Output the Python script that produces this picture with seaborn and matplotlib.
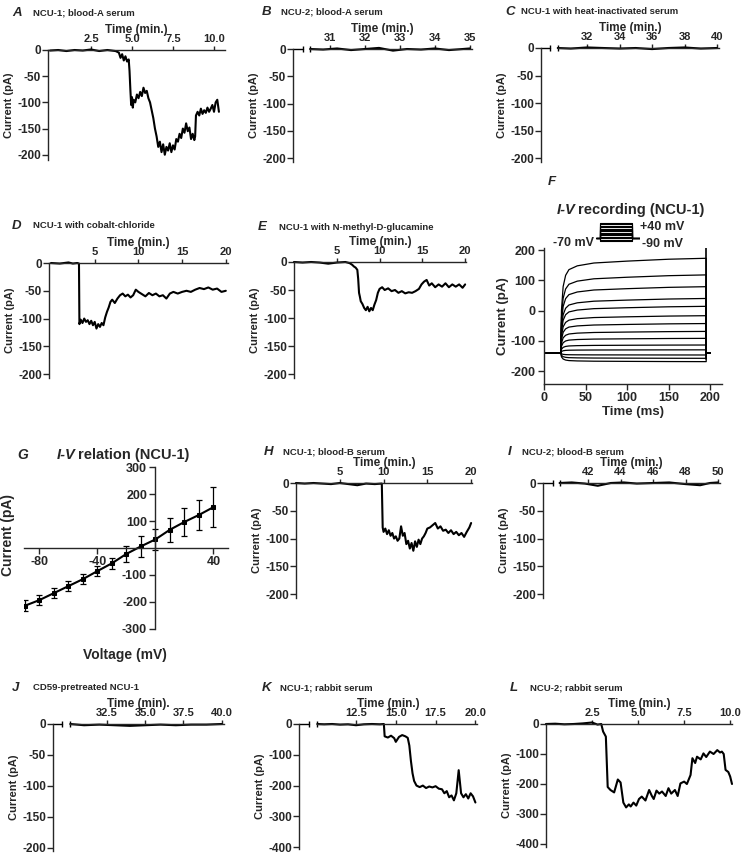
import matplotlib
matplotlib.use("Agg")
import matplotlib.pyplot as plt
import seaborn as sns

# ---- data (time in min, current in pA) ----
a_t = [0.0, 0.5, 1.0, 1.5, 2.0, 2.5, 3.0, 3.5, 4.0, 4.2,
       4.3, 4.4, 4.5, 4.6, 4.7, 4.8, 4.85, 4.9, 4.95, 5.0,
       5.05, 5.1, 5.2, 5.3, 5.4, 5.5, 5.6, 5.7, 5.8, 5.9,
       6.0, 6.1, 6.2, 6.3, 6.4, 6.5, 6.6, 6.7, 6.8, 6.9,
       7.0, 7.1, 7.2, 7.3, 7.4, 7.5, 7.6, 7.7, 7.8, 7.9,
       8.0, 8.1, 8.2, 8.3, 8.4, 8.5, 8.6, 8.7, 8.8, 8.85,
       8.9, 9.0, 9.1, 9.2, 9.3, 9.4, 9.5, 9.6, 9.7, 9.8,
       9.9, 10.0, 10.1, 10.2, 10.3]
a_i = [-1, 0, -2, 0, -1, 1, -2, 0, -2, -5,
       -15, -8, -20, -12, -22, -18, -40, -75, -105, -90,
       -110, -95, -100, -85, -92, -80, -88, -72, -82, -78,
       -92, -100, -115, -130, -150, -165, -185, -175, -195, -180,
       -200, -185, -192, -178, -195, -182, -190, -170, -175, -160,
       -168, -150, -158, -140, -155, -148, -170, -160, -172, -165,
       -125, -118, -125, -112, -122, -115, -120, -110, -118, -112,
       -105, -118, -100, -95, -118]

b_t = [30.43, 30.8, 31.2, 31.6, 32.0, 32.4, 32.8, 33.2, 33.6, 34.0, 34.4, 34.8, 35.0]
b_i = [0, -1, 1, -2, 0, 2, -3, 0, -1, 1, -2, 0, 1]

c_t = [30.2, 31, 32, 33, 34, 35, 36, 37, 38, 39, 40]
c_i = [0, -1, 1, 0, -1, 0, -2, 0, 1, -1, 0]

d_t = [0, 1, 2, 2.5, 3.0, 3.2, 3.25, 3.4, 3.6, 3.8,
       4.0, 4.2, 4.4, 4.6, 4.8, 5.0, 5.2, 5.4, 5.6, 5.8,
       6.0, 6.2, 6.4, 6.6, 6.8, 7.0, 7.3, 7.6, 7.9, 8.2,
       8.5, 8.8, 9.1, 9.4, 9.7, 10.0, 10.4, 10.8, 11.2, 11.6,
       12.0, 12.4, 12.8, 13.2, 13.6, 14.0, 14.5, 15.0, 15.5, 16.0,
       16.5, 17.0, 17.5, 18.0, 18.5, 19.0, 19.5, 20.0]
d_i = [0, -1, 1, -1, 0, -1, -110, -102, -108, -100,
       -106, -103, -110, -104, -112, -106, -118, -110, -115, -108,
       -112, -98, -88, -80, -70, -66, -72, -64, -58, -55,
       -60, -57, -62, -58, -48, -52, -56, -60, -54, -58,
       -55, -60, -58, -64, -55, -52, -55, -52, -50, -52,
       -48, -45, -47, -44, -48, -46, -52, -50]

e_t = [0, 1, 2, 3, 4, 5, 6, 6.5, 6.8, 7.0,
       7.2, 7.4, 7.5, 7.6, 7.7, 7.8, 8.0, 8.2, 8.4, 8.6,
       8.8, 9.0, 9.2, 9.4, 9.6, 9.8, 10.0, 10.3, 10.6, 11.0,
       11.4, 11.8, 12.2, 12.6, 13.0, 13.4, 13.8, 14.2, 14.6, 14.9,
       15.2, 15.5, 15.8, 16.1, 16.5, 16.9, 17.3, 17.7, 18.1, 18.5,
       18.9, 19.3, 19.7, 20.0]
e_i = [0, -1, 0, -1, -3, -1, 0, -2, -5, -8,
       -10, -14, -30, -55, -62, -70, -75, -82, -86, -80,
       -88, -82, -86, -76, -68, -55, -48, -45, -50, -47,
       -52, -50, -55, -52, -56, -54, -55, -52, -48, -40,
       -35, -32, -42, -38, -45, -40, -44, -38, -45, -40,
       -44, -40, -46, -40]

# F: I-V recording, steps -90..+40 mV (time in ms)
f_base = -140
f_final = [173, 118, 79, 40, 14, -17, -43, -69, -92, -114, -130, -147, -158, -169]
f_shape_t = [20, 21, 23, 26, 30, 40, 60, 100, 150, 195]
f_shape = [0, 0.45, 0.7, 0.82, 0.88, 0.92, 0.95, 0.97, 0.99, 1.0]
f_tail_t = [195, 195]
f_tail_i = [-160, 207]

# G: I-V relation
g_v = [-90, -80, -70, -60, -50, -40, -30, -20, -10, 0, 10, 20, 30, 40]
g_i = [-215, -194, -168, -142, -116, -86, -57, -22, 6, 32, 68, 97, 123, 152]
g_e = [21, 19, 19, 18, 18, 19, 21, 29, 40, 40, 45, 52, 57, 74]

h_t = [0, 1, 2, 3, 4, 5, 6, 7, 8, 9,
       9.8, 9.9, 10.0, 10.2, 10.4, 10.6, 10.8, 11.0, 11.2, 11.4,
       11.6, 11.8, 12.0, 12.2, 12.4, 12.6, 12.8, 13.0, 13.2, 13.4,
       13.6, 13.8, 14.0, 14.2, 14.4, 14.6, 14.8, 15.0, 15.3, 15.6,
       15.9, 16.2, 16.5, 16.8, 17.1, 17.4, 17.7, 18.0, 18.3, 18.6,
       18.9, 19.2, 19.5, 19.8, 20.0]
h_i = [0, -1, 0, -1, -2, 0, -2, -4, -1, -2,
       -1, -80, -88, -82, -92, -85, -95, -90, -100, -96,
       -104, -100, -78, -95, -90, -110, -104, -118, -108, -122,
       -105, -115, -102, -110, -100, -96, -90, -82, -80, -76,
       -72, -82, -78, -86, -84, -90, -85, -92, -88, -94,
       -90, -97, -88, -80, -72]

i_t = [40.25, 41, 41.8, 42.6, 43.4, 44.2, 45, 46, 47, 48, 48.9, 49.5, 50]
i_i = [0, 1, -1, -5, 0, 1, -1, 0, 1, -2, -4, 0, 1]

j_t = [30.1, 31, 32, 33, 34, 35, 36, 37, 38, 39, 40]
j_i = [0, -2, -1, -2, -3, -2, -1, -2, -1, -1, 0]

k_t = [10.07, 10.5, 11.0, 11.5, 12.0, 12.5, 13.0, 13.5, 14.0, 14.25,
       14.3, 14.5, 14.7, 14.9, 15.0, 15.2, 15.4, 15.6, 15.75, 15.85,
       15.95, 16.05, 16.15, 16.3, 16.5, 16.7, 16.9, 17.1, 17.3, 17.5,
       17.7, 17.9, 18.05, 18.2, 18.35, 18.5, 18.65, 18.8, 18.95, 19.1,
       19.25, 19.4, 19.55, 19.7, 19.85, 20.0]
k_i = [0, -1, 0, -2, -1, -4, -1, 0, -1, 0,
       -40, -44, -38, -46, -58, -42, -36, -40, -45, -70,
       -120, -160, -185, -200, -205, -200, -208, -203, -206, -202,
       -210, -212, -225, -218, -238, -232, -248, -225, -150, -225,
       -238, -228, -242, -225, -235, -255]

l_t = [0.0, 0.5, 1.0, 1.5, 2.0, 2.5, 2.8, 3.0, 3.1, 3.25,
       3.35, 3.5, 3.7, 3.9, 4.05, 4.2, 4.35, 4.5, 4.6, 4.75,
       4.9, 5.05, 5.2, 5.4, 5.6, 5.75, 5.85, 6.0, 6.15, 6.3,
       6.5, 6.65, 6.8, 7.0, 7.15, 7.3, 7.5, 7.65, 7.85, 7.95,
       8.1, 8.2, 8.4, 8.55, 8.7, 8.9, 9.1, 9.3, 9.45, 9.55,
       9.65, 9.75, 9.9, 10.0, 10.1]
l_i = [0, 1, -1, 0, 2, 5, -2, 0, -25, -42,
       -210, -220, -228, -185, -195, -262, -278, -268, -275, -262,
       -272, -250, -242, -255, -220, -240, -250, -222, -232, -225,
       -240, -214, -232, -220, -240, -198, -192, -200, -170, -114,
       -130, -109, -118, -98, -110, -92, -100, -87, -95, -92,
       -100, -153, -160, -175, -200]

y200 = [0, -50, -100, -150, -200]
y400 = [0, -100, -200, -300, -400]

# ---- style ----
sns.set_style("ticks")
plt.rcParams["font.family"] = ["Liberation Sans", "DejaVu Sans"]
plt.rcParams["font.weight"] = "bold"
plt.rcParams["axes.unicode_minus"] = False
plt.rcParams["axes.linewidth"] = 1.0
plt.rcParams["xtick.major.width"] = 1.0
plt.rcParams["ytick.major.width"] = 1.0

W, H = 745, 859
fig = plt.figure(figsize=(W / 100, H / 100), dpi=100)


def px_axes(left, top, right, bottom):
    return fig.add_axes([left / W, 1 - bottom / H, (right - left) / W, (bottom - top) / H])


def label(xl, xt, y, letter, title):
    fig.text(xl / W, 1 - y / H, letter, fontsize=9.5, fontweight="bold", style="italic", va="center")
    fig.text(xt / W, 1 - y / H, title, fontsize=6.8, fontweight="bold", va="center")


def trace_panel(rect, xlim, ylo, xticks, fmt, yticks, t, cur, brk=None, xlab="Time (min.)"):
    ax = px_axes(*rect)
    sns.lineplot(x=t, y=cur, ax=ax, color="black", linewidth=1.5, sort=False, estimator=None)
    for ln in ax.lines:
        ln.set_clip_on(False)
    ax.set_xlim(*xlim)
    ax.set_ylim(ylo, 0)
    ax.spines["right"].set_visible(False)
    ax.spines["bottom"].set_visible(False)
    ax.xaxis.tick_top()
    ax.xaxis.set_label_position("top")
    ax.set_xticks(xticks)
    ax.set_xticklabels([fmt.format(v) for v in xticks])
    ax.set_yticks(yticks)
    ax.tick_params(axis="x", direction="out", length=3, pad=1, labelsize=8)
    ax.tick_params(axis="y", direction="out", length=4, pad=1, labelsize=8.5)
    ax.set_xlabel(xlab, fontsize=8.5, fontweight="bold", labelpad=1)
    ax.set_ylabel("Current (pA)", fontsize=8, fontweight="bold", labelpad=2)
    if brk:
        seg_end, main_start = brk
        ax.spines["top"].set_bounds(main_start, xlim[1])
        ax.plot([xlim[0], seg_end], [0, 0], color="black", lw=1, clip_on=False)
        ax.plot([seg_end, main_start], [0, 0], ls="none", marker="|", ms=5, mew=1,
                color="black", clip_on=False)
    return ax


# ---- panels A-E, H-L ----
label(12, 33, 13, "A", "NCU-1; blood-A serum")
trace_panel((48, 50, 225, 160), (-0.12, 10.67), -210, [2.5, 5, 7.5, 10], "{:.1f}", y200, a_t, a_i)

label(262, 281, 12, "B", "NCU-2; blood-A serum")
trace_panel((293, 49, 472, 162), (29.94, 35.06), -207, [31, 32, 33, 34, 35], "{:.0f}", y200,
            b_t, b_i, brk=(30.23, 30.43))

label(505, 521, 12, "C", "NCU-1 with heat-inactivated serum")
trace_panel((541, 48, 719, 162), (29.17, 40.12), -207, [32, 34, 36, 38, 40], "{:.0f}", y200,
            c_t, c_i, brk=(29.72, 30.2))

label(12, 33, 226, "D", "NCU-1 with cobalt-chloride")
trace_panel((49, 263, 228, 378), (-0.23, 20.25), -207, [5, 10, 15, 20], "{:.0f}", y200, d_t, d_i)

label(258, 279, 227, "E", "NCU-1 with N-methyl-D-glucamine")
trace_panel((294, 262, 466, 378), (0, 20.1), -207, [5, 10, 15, 20], "{:.0f}", y200, e_t, e_i)

label(264, 283, 452, "H", "NCU-1; blood-B serum")
trace_panel((296, 483, 472, 598), (0, 20.1), -207, [5, 10, 15, 20], "{:.0f}", y200, h_t, h_i)

label(508, 522, 452, "I", "NCU-2; blood-B serum")
trace_panel((543, 483, 720, 598), (39.23, 50.12), -207, [42, 44, 46, 48, 50], "{:.0f}", y200,
            i_t, i_i, brk=(39.85, 40.25))

label(12, 33, 688, "J", "CD59-pretreated NCU-1")
trace_panel((53, 724, 224, 851), (28.97, 40.15), -205, [32.5, 35, 37.5, 40], "{:.1f}", y200,
            j_t, j_i, brk=(29.56, 30.1), xlab="Time (min).")

label(262, 280, 688, "K", "NCU-1; rabbit serum")
trace_panel((299, 724, 477, 849), (8.92, 20.1), -406, [12.5, 15, 17.5, 20], "{:.1f}", y400,
            k_t, k_i, brk=(9.55, 10.07))

label(510, 530, 688, "L", "NCU-2; rabbit serum")
trace_panel((546, 724, 732, 847), (0, 10.1), -410, [2.5, 5, 7.5, 10], "{:.1f}", y400, l_t, l_i)

# ---- panel F: I-V recording ----
axf = px_axes(544, 248, 722, 384)
for fin in f_final:
    t = [0] + f_shape_t + [195, 200]
    v = [f_base] + [f_base + (fin - f_base) * s for s in f_shape] + [f_base, f_base]
    sns.lineplot(x=t, y=v, ax=axf, color="black", linewidth=0.9, sort=False, estimator=None)
sns.lineplot(x=f_tail_t, y=f_tail_i, ax=axf, color="black", linewidth=1.2, sort=False, estimator=None)
axf.set_xlim(0, 214)
axf.set_ylim(-243, 207)
axf.set_xticks([0, 50, 100, 150, 200])
axf.set_yticks([-200, -100, 0, 100, 200])
sns.despine(ax=axf)
axf.tick_params(direction="out", length=4, pad=2, labelsize=9)
axf.set_xlabel("Time (ms)", fontsize=9.5, fontweight="bold", labelpad=1)
axf.set_ylabel("Current (pA)", fontsize=9.5, fontweight="bold", labelpad=1)
fig.text(548 / W, 1 - 182 / H, "F", fontsize=9.5, fontweight="bold", style="italic", va="center")
fig.text(557 / W, 1 - 210 / H, "I-V", fontsize=10.5, fontweight="bold", style="italic", va="center")
fig.text(578 / W, 1 - 210 / H, "recording (NCU-1)", fontsize=10.5, fontweight="bold", va="center")

# voltage protocol inset
axp = px_axes(596, 222, 640, 246)
for v in g_v:
    axp.plot([0, 9, 9, 82, 82, 100], [-70, -70, v, v, -70, -70], color="black", lw=0.8)
axp.set_xlim(0, 100)
axp.set_ylim(-126, 47)
axp.axis("off")
fig.text(594 / W, 1 - 243 / H, "-70 mV", fontsize=9, fontweight="bold", ha="right", va="center")
fig.text(640 / W, 1 - 227 / H, "+40 mV", fontsize=9, fontweight="bold", ha="left", va="center")
fig.text(642 / W, 1 - 244 / H, "-90 mV", fontsize=9, fontweight="bold", ha="left", va="center")

# ---- panel G: I-V relation ----
axg = px_axes(24, 466, 228, 630)
axg.errorbar(g_v, g_i, yerr=g_e, fmt="none", ecolor="black", elinewidth=0.9, capsize=2.5, capthick=0.9)
sns.lineplot(x=g_v, y=g_i, ax=axg, color="black", linewidth=1.5, marker="s", markersize=3.5,
             markeredgecolor="black", estimator=None)
axg.set_xlim(-90.5, 50)
axg.set_ylim(-305, 305)
axg.spines["left"].set_position(("data", 0))
axg.spines["bottom"].set_position(("data", 0))
axg.spines["left"].set_bounds(-300, 300)
axg.spines["right"].set_visible(False)
axg.spines["top"].set_visible(False)
axg.set_xticks([-80, -40, 40])
axg.set_yticks([-300, -200, -100, 100, 200, 300])
axg.tick_params(direction="out", length=4, pad=2, labelsize=9)
axg.set_xlabel("Voltage (mV)", fontsize=10, fontweight="bold")
axg.set_ylabel("Current (pA)", fontsize=10, fontweight="bold")
axg.xaxis.set_label_coords(0.495, -0.11)
axg.yaxis.set_label_coords(-0.045, 0.58)
fig.text(17 / W, 1 - 455 / H, "G", fontsize=10, fontweight="bold", style="italic", va="center")
fig.text(57 / W, 1 - 455 / H, "I-V", fontsize=10.5, fontweight="bold", style="italic", va="center")
fig.text(78 / W, 1 - 455 / H, "relation (NCU-1)", fontsize=10.5, fontweight="bold", va="center")

fig.savefig("out.png", dpi=100)
